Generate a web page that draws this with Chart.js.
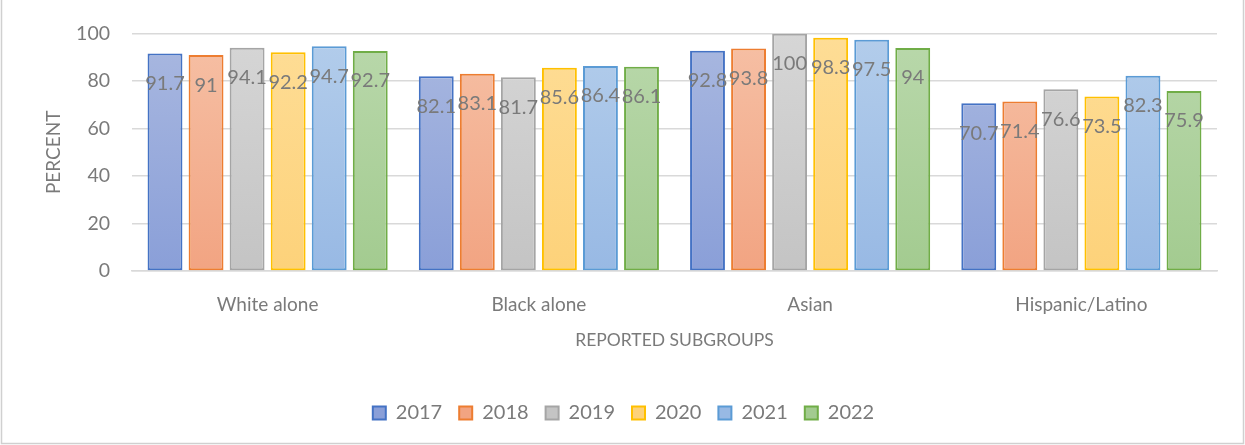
<!DOCTYPE html>
<html>
<head>
<meta charset="utf-8">
<script src="https://cdn.jsdelivr.net/npm/chart.js@4.4.0/dist/chart.umd.min.js"></script>
<style>
  html, body { margin: 0; padding: 0; background: #fff; }
  #wrap { width: 1245px; height: 445px; }
</style>
</head>
<body>
<div id="wrap"><canvas id="chart" width="1245" height="445"></canvas></div>
<script>
const categories = ["White alone", "Black alone", "Asian", "Hispanic/Latino"];
const years = ["2017", "2018", "2019", "2020", "2021", "2022"];
const values2017 = [91.7, 82.1, 92.8, 70.7];
const values2018 = [91, 83.1, 93.8, 71.4];
const values2019 = [94.1, 81.7, 100, 76.6];
const values2020 = [92.2, 85.6, 98.3, 73.5];
const values2021 = [94.7, 86.4, 97.5, 82.3];
const values2022 = [92.7, 86.1, 94, 75.9];
const yTicks = [0, 20, 40, 60, 80, 100];

const allValues = [values2017, values2018, values2019, values2020, values2021, values2022];
const borderColors = ["#4472C4", "#ED7D31", "#A5A5A5", "#FFC000", "#5B9BD5", "#70AD47"];
const topColors = ["#a9b8e0", "#f6c0a5", "#d6d6d6", "#fedd96", "#b3cdeb", "#b9d8ab"];
const bottomColors = ["#8a9fd8", "#f2a482", "#c4c4c4", "#fdd27a", "#98b9e4", "#a3cb90"];

const gradientFill = (i) => (ctx) => {
  const area = ctx.chart.chartArea;
  if (!area) return topColors[i];
  const g = ctx.chart.ctx.createLinearGradient(0, area.top, 0, area.bottom);
  g.addColorStop(0, topColors[i]);
  g.addColorStop(1, bottomColors[i]);
  return g;
};

const datasets = years.map((y, i) => ({
  label: y,
  data: allValues[i],
  backgroundColor: gradientFill(i),
  borderColor: borderColors[i],
  borderWidth: 2,
  borderSkipped: false,
  categoryPercentage: 0.908,
  barPercentage: 0.85,
}));

const FONT = "Lato, 'Open Sans', sans-serif";
const GREY = "#7a7a7a";

// value labels a bit below the top of each bar
const valueLabels = {
  id: "valueLabels",
  afterDatasetsDraw(chart) {
    const c = chart.ctx;
    c.save();
    c.font = "20px " + FONT;
    c.fillStyle = GREY;
    c.textAlign = "center";
    c.textBaseline = "middle";
    chart.data.datasets.forEach((ds, i) => {
      chart.getDatasetMeta(i).data.forEach((bar, j) => {
        c.fillText(String(ds.data[j]), bar.x, bar.y + 30);
      });
    });
    c.restore();
  },
};

// white background and frame
const frame = {
  id: "frame",
  beforeDraw(chart) {
    const c = chart.ctx;
    c.save();
    c.fillStyle = "#fff";
    c.fillRect(0, 0, chart.width, chart.height);
    c.strokeStyle = "#d0d0d0";
    c.lineWidth = 1.5;
    c.strokeRect(1.5, -5, 1242, 448.5);
    c.restore();
  },
};

new Chart(document.getElementById("chart"), {
  type: "bar",
  data: { labels: categories, datasets: datasets },
  plugins: [frame, valueLabels],
  options: {
    responsive: false,
    animation: false,
    events: [],
    layout: { padding: { left: 30, right: 28, top: 24, bottom: 12 } },
    plugins: {
      tooltip: { enabled: false },
      legend: {
        position: "bottom",
        labels: {
          font: { family: FONT, size: 20 },
          color: GREY,
          boxWidth: 13,
          boxHeight: 13,
          padding: 17,
        },
      },
    },
    scales: {
      x: {
        grid: { display: false },
        border: { color: "#d9d9d9", width: 1.5 },
        ticks: { font: { family: FONT, size: 19 }, color: GREY, padding: 14 },
        title: {
          display: true,
          text: "REPORTED SUBGROUPS",
          font: { family: FONT, size: 17.5 },
          color: GREY,
          padding: { top: 12, bottom: 35 },
        },
        afterFit(axis) { axis.height = 115; },
      },
      y: {
        min: 0,
        max: 100,
        afterBuildTicks(axis) { axis.ticks = yTicks.map((v) => ({ value: v })); },
        grid: { color: "#d9d9d9", lineWidth: 1.5, drawTicks: false, tickLength: 0 },
        border: { display: false },
        ticks: { font: { family: FONT, size: 19.5 }, color: GREY, padding: 22 },
        title: {
          display: true,
          text: "PERCENT",
          font: { family: FONT, size: 19 },
          color: GREY,
          padding: { top: 12, bottom: 6 },
        },
        afterFit(axis) { axis.width = 102; },
      },
    },
  },
});
</script>
</body>
</html>
